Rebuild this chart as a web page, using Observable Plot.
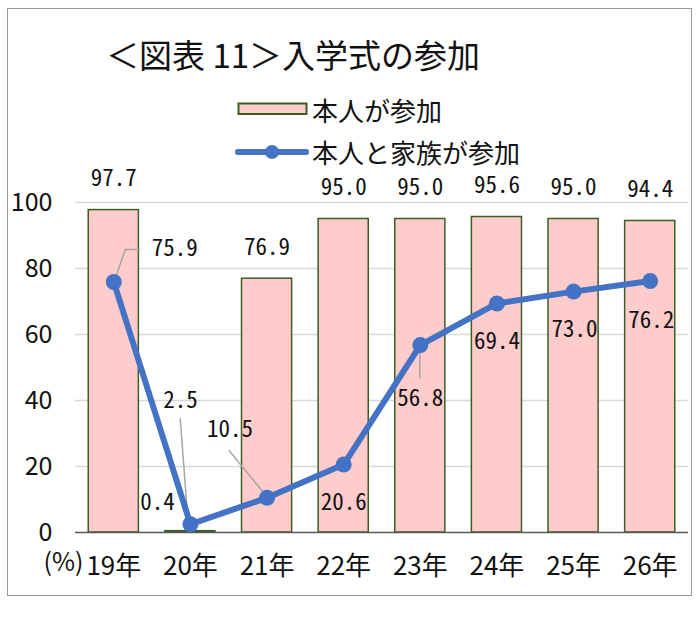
<!DOCTYPE html>
<html><head><meta charset="utf-8">
<script src="https://cdn.jsdelivr.net/npm/d3@7"></script>
<script src="https://cdn.jsdelivr.net/npm/@observablehq/plot@0.6"></script>
<style>
body{margin:0;background:#fff;}
#wrap{position:relative;width:700px;height:630px;overflow:hidden;font-family:"Noto Sans CJK JP",sans-serif;color:#111;background:#fff;}
#frame{position:absolute;left:7px;top:8px;width:685px;height:588px;border:1.5px solid #9a9a9a;box-sizing:border-box;}
#title{position:absolute;left:106px;top:37.7px;font-size:33px;line-height:33px;white-space:nowrap;}
.leg{position:absolute;left:312px;font-size:26px;line-height:26px;white-space:nowrap;}
#legsw{position:absolute;left:0;top:0;}
#chart{position:absolute;left:0;top:150px;}
</style></head>
<body><div id="wrap">
<div id="frame"></div>
<div id="title">＜図表 11＞入学式の参加</div>
<svg id="legsw" width="700" height="180">
  <rect x="238.5" y="103.5" width="68" height="10.5" fill="#ffcccc" stroke="#3b5e22" stroke-width="2"></rect>
  <line x1="238" y1="152" x2="306" y2="152" stroke="#4472c4" stroke-width="6" stroke-linecap="round"></line>
  <circle cx="272" cy="152" r="7" fill="#4472c4"></circle>
</svg>
<div class="leg" style="top:96.5px">本人が参加</div>
<div class="leg" style="top:138.5px">本人と家族が参加</div>
<div id="chart"></div>
</div>
<script>
// ---- data ----
const years = ["19年","20年","21年","22年","23年","24年","25年","26年"];
const selfOnly = [97.7, 0.4, 76.9, 95.0, 95.0, 95.6, 95.0, 94.4];   // 本人が参加
const withFamily = [75.9, 2.5, 10.5, 20.6, 56.8, 69.4, 73.0, 76.2]; // 本人と家族が参加
const yTicks = [0, 20, 40, 60, 80, 100];

// ---- layout (label offsets in px relative to the data point) ----
const lineLabelOffsets = [[61,-33],[-10,-123.5],[-37,-68],[0,38],[0,54],[0,38],[1,38],[1,40]];
const leaderLines = [
  [0, [[2,-3],[12,-32],[27,-32]]],
  [1, [[-9.75,-105.5],[-1.75,-0.5]]],
  [2, [[-37.75,-47],[-0.75,-2]]],
  [4, [[0,1],[0,34]]]
];

const rows = years.map((y, i) => ({year: y, s: selfOnly[i], f: withFamily[i], i}));
const monoFont = "'Noto Sans Mono CJK JP','DejaVu Sans Mono',monospace";
const labelSize = 23;

function leaders(index, scales) {
  const xs = scales.x, ys = scales.y;
  const bw = xs.bandwidth ? xs.bandwidth() : 0;
  const g = d3.create("svg:g").attr("fill", "none").attr("stroke", "#a6a6a6").attr("stroke-width", 1.5);
  for (const [i, pts] of leaderLines) {
    const cx = xs(years[i]) + bw / 2, cy = ys(withFamily[i]);
    g.append("path").attr("d", "M" + pts.map(([dx, dy]) => `${cx + dx},${cy + dy}`).join("L"));
  }
  return g.node();
}

const barLabelMarks = [
  Plot.text(rows.filter(d => d.i !== 1), {x: "year", y: "s", text: d => d.s.toFixed(1), dy: -31,
    fontFamily: monoFont, fontSize: labelSize, fill: "#111"}),
  Plot.text(rows.filter(d => d.i === 1), {x: "year", y: "s", text: d => d.s.toFixed(1), dx: -33, dy: -29,
    fontFamily: monoFont, fontSize: labelSize, fill: "#111"})
];
const lineLabelMarks = rows.map((d, i) => Plot.text([d], {x: "year", y: "f", text: r => r.f.toFixed(1),
  dx: lineLabelOffsets[i][0], dy: lineLabelOffsets[i][1], fontFamily: monoFont, fontSize: labelSize, fill: "#111"}));

const chart = Plot.plot({
  width: 700, height: 480,
  marginTop: 52, marginBottom: 98, marginLeft: 75, marginRight: 12,
  style: {fontFamily: "'Liberation Sans Narrow','Noto Sans CJK JP',sans-serif", fontSize: "25px", color: "#111", background: "transparent", overflow: "visible"},
  x: {domain: years, paddingInner: 0.346, paddingOuter: 0.173, round: false, label: null},
  y: {domain: [0, 100], label: null},
  marks: [
    Plot.gridY(yTicks.filter(t => t > 0), {stroke: "#d9d9d9", strokeOpacity: 1, strokeWidth: 1.5}),
    Plot.barY(rows, {x: "year", y: "s", fill: "#ffcccc", stroke: "#3b5e22", strokeWidth: 1.5}),
    Plot.ruleY([0], {stroke: "#595959", strokeWidth: 1.5}),
    Plot.axisY({ticks: yTicks, tickSize: 0, tickPadding: 23, fontSize: 25, label: null}),
    Plot.axisX({tickSize: 0, tickPadding: 24, fontSize: 26, label: null}),
    Plot.text(["(%)"], {frameAnchor: "bottom-left", textAnchor: "end", dx: 8, dy: 38.5, fontSize: 25,
      fontFamily: "'Noto Sans CJK JP',sans-serif", fill: "#111"}),
    leaders,
    Plot.line(rows, {x: "year", y: "f", stroke: "#4472c4", strokeWidth: 6}),
    Plot.dot(rows, {x: "year", y: "f", r: 8, fill: "#4472c4"}),
    ...barLabelMarks,
    ...lineLabelMarks
  ]
});
document.getElementById("chart").appendChild(chart);
</script>
</body></html>
